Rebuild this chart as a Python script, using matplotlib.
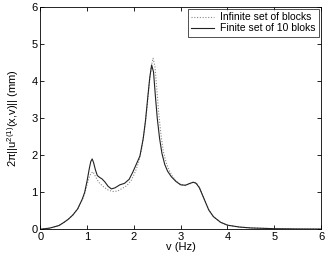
import matplotlib
matplotlib.use("Agg")
import matplotlib.pyplot as plt

# finite set of 10 blocks (solid)
x_fin = [0, 0.2, 0.4, 0.5, 0.6, 0.7, 0.8, 0.9, 0.95, 1.0, 1.05, 1.08, 1.11, 1.14,
         1.18, 1.22, 1.27, 1.32, 1.38, 1.45, 1.52, 1.6, 1.7, 1.8, 1.9, 1.98, 2.05,
         2.13, 2.2, 2.25, 2.3, 2.34, 2.38, 2.42, 2.46, 2.5, 2.55, 2.6, 2.66, 2.72,
         2.8, 2.9, 3.0, 3.1, 3.2, 3.27, 3.33, 3.4, 3.5, 3.6, 3.7, 3.85, 4.0, 4.25,
         4.5, 5.0, 5.5, 6.0]
y_fin = [0.0, 0.03, 0.1, 0.18, 0.27, 0.39, 0.55, 0.82, 1.0, 1.3, 1.65, 1.83, 1.9,
         1.8, 1.6, 1.45, 1.4, 1.36, 1.28, 1.16, 1.09, 1.12, 1.2, 1.24, 1.35, 1.55,
         1.75, 1.98, 2.45, 2.95, 3.6, 4.1, 4.44, 4.25, 3.6, 3.0, 2.45, 2.05, 1.75,
         1.57, 1.42, 1.29, 1.2, 1.19, 1.24, 1.27, 1.24, 1.12, 0.82, 0.52, 0.34,
         0.19, 0.11, 0.06, 0.035, 0.015, 0.008, 0.005]

# infinite set of blocks (dotted)
x_inf = [0, 0.2, 0.4, 0.5, 0.6, 0.7, 0.8, 0.9, 0.95, 1.0, 1.05, 1.09, 1.13, 1.17,
         1.22, 1.27, 1.35, 1.45, 1.55, 1.65, 1.75, 1.85, 1.95, 2.03, 2.1, 2.17,
         2.24, 2.29, 2.34, 2.38, 2.41, 2.45, 2.49, 2.53, 2.58, 2.63, 2.69, 2.75,
         2.82, 2.9, 3.0, 3.1, 3.2, 3.28, 3.34, 3.4, 3.5, 3.6, 3.7, 3.85, 4.0, 4.25,
         4.5, 5.0, 5.5, 6.0]
y_inf = [0.0, 0.03, 0.1, 0.18, 0.27, 0.39, 0.55, 0.8, 0.97, 1.2, 1.42, 1.52, 1.55,
         1.45, 1.33, 1.24, 1.15, 1.06, 1.02, 1.03, 1.1, 1.18, 1.33, 1.55, 1.8, 2.2,
         2.8, 3.4, 4.05, 4.45, 4.62, 4.4, 3.8, 3.15, 2.55, 2.1, 1.8, 1.6, 1.44,
         1.31, 1.21, 1.18, 1.23, 1.28, 1.25, 1.13, 0.83, 0.53, 0.34, 0.19, 0.11,
         0.06, 0.035, 0.015, 0.008, 0.005]

plt.rcParams['font.family'] = ['Liberation Sans', 'DejaVu Sans']
plt.rcParams['mathtext.fontset'] = 'custom'
plt.rcParams['mathtext.rm'] = 'Liberation Sans'
plt.rcParams['mathtext.it'] = 'Liberation Sans'

fig = plt.figure(figsize=(3.27, 2.57), dpi=100)
ax = fig.add_axes([0.123, 0.108, 0.859, 0.864])

ax.plot(x_inf, y_inf, color='#888888', linestyle=(0, (1, 1.5)), linewidth=0.8,
        label='Infinite set of blocks')
ax.plot(x_fin, y_fin, color='#222222', linewidth=0.8,
        label='Finite set of 10 bloks')

ax.set_xlim(0, 6)
ax.set_ylim(0, 6)
ax.set_xticks(range(7))
ax.set_yticks(range(7))
ax.tick_params(direction='in', length=3, width=0.6, labelsize=8, pad=2,
               top=True, right=True)
for s in ax.spines.values():
    s.set_linewidth(0.6)

ax.set_xlabel('v (Hz)', fontsize=8, labelpad=0)
ax.set_ylabel(r'2$\pi$||u$^{2(1)}$(x,v)|| (mm)', fontsize=8, labelpad=7)

leg = ax.legend(loc='upper right', fontsize=7.5, frameon=True, fancybox=False,
                borderpad=0.3, labelspacing=0.1, handlelength=2.2,
                handletextpad=0.6, borderaxespad=0.2)
leg.get_frame().set_edgecolor('black')
leg.get_frame().set_linewidth(0.6)

fig.savefig('out.png', dpi=100)
